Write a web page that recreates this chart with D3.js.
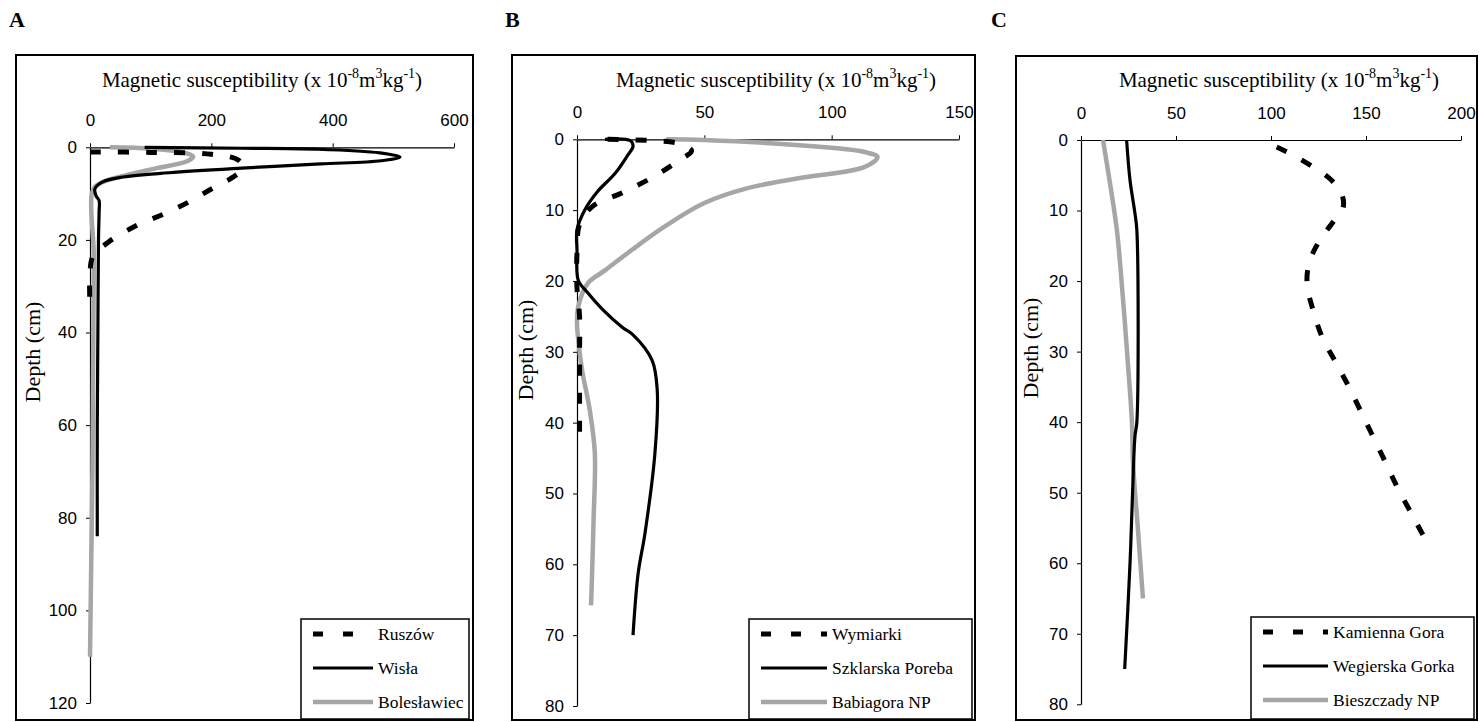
<!DOCTYPE html>
<html>
<head>
<meta charset="utf-8">
<script src="https://cdn.jsdelivr.net/npm/d3@7"></script>
<style>
  body { margin: 0; background: #fff; }
  svg { display: block; }
  .tick text { font-family: "Liberation Sans", Arial, sans-serif; font-size: 17px; fill: #000; }
  .serif { font-family: "Liberation Serif", "Times New Roman", serif; fill: #000; }
</style>
</head>
<body>
<svg width="1479" height="722"></svg>
<script>
// values: [susceptibility, depth]
var ruszow = [[0,1],[100,1.1],[200,1.5],[245,2.8],[252,4.5],[235,6.5],[200,9],[160,12],[120,14.5],[75,17],[30,20.5],[5,23.5],[0,27],[0,35]];
var wisla = [[90,0],[250,0.2],[370,0.4],[478,1.2],[511,2.1],[480,2.9],[380,3.6],[250,4.5],[130,5.5],[50,6.5],[20,7.5],[8,9],[10,10.5],[15,11.5],[15,14],[14,20],[13,40],[12,60],[12,84]];
var boleslawiec = [[33,0],[100,0.3],[150,1],[170,2],[160,3],[110,4.5],[60,6],[25,7.3],[8,8.5],[3,10],[2,13],[4,18],[6,22],[6,30],[5,50],[4,70],[2,90],[0,110]];

var wymiarki = [[12,0],[30,0.2],[40,0.6],[45,1.6],[40,3],[30,5.3],[18,7.5],[6,9.5],[1,12],[0,16],[0,21],[1,25],[1,30],[1,36],[1,42]];
var szklarska = [[11,0],[21,0.2],[22,1],[20,2.2],[15,4.8],[8,7.4],[3,10],[0,12.8],[0,15.6],[0.5,19.9],[4.3,21.7],[10,24],[18,26.6],[22,27.6],[29.5,31.2],[31.5,35.4],[30.6,44.3],[26.7,55.6],[24,61.3],[22,70]];
var babiagora = [[35,0],[50,0.1],[100,1.2],[113,1.8],[118,2.5],[113,3.9],[87,5.5],[67,6.9],[50,9],[34.5,12.3],[21.6,15.6],[11,18.5],[4.3,20.3],[0.5,23.6],[0,26],[0.5,28.3],[2,32.6],[5,38.2],[7,44.3],[6.5,53.8],[5.8,62.7],[5.5,65.8]];

var kamienna = [[103,1],[112,2.2],[122,3.8],[131,5.5],[137,7.5],[138,9.5],[133,11.5],[125,14.5],[120,17.5],[119,20.5],[122,24],[127,28],[133,31],[141,35],[150,40],[159,45],[167,49.5],[175,53.5],[180,56]];
var wegierska = [[24,0],[25.8,5.7],[28.4,10.4],[29.4,12.8],[29.4,40],[28.4,42],[27.4,48],[25.8,60],[23,75]];
var bieszczady = [[11.6,0],[15,5.7],[18.9,12.8],[22,22.2],[24.7,31.7],[26.8,40],[27.4,45.9],[30,55.3],[32.6,65]];

var namesA = ["Ruszów", "Wisła", "Bolesławiec"];
var namesB = ["Wymiarki", "Szklarska Poreba", "Babiagora NP"];
var namesC = ["Kamienna Gora", "Wegierska Gorka", "Bieszczady NP"];

var xTicksA = [0, 200, 400, 600], yTicksA = [0, 20, 40, 60, 80, 100, 120];
var xTicksB = [0, 50, 100, 150], yTicksB = [0, 10, 20, 30, 40, 50, 60, 70, 80];
var xTicksC = [0, 50, 100, 150, 200], yTicksC = [0, 10, 20, 30, 40, 50, 60, 70, 80];

var svg = d3.select("svg");

// dashed black, solid black, grey
var styles = [
  {stroke: "#000", width: 5, dash: "11,17"},
  {stroke: "#000", width: 3.2, dash: null},
  {stroke: "#a6a6a6", width: 4.5, dash: null}
];

var panels = [
  {label: "A", labelX: 9, frame: [16, 55, 473, 720], xr: [90, 454], yr: [147.3, 703],
   xTicks: xTicksA, yTicks: yTicksA, titleX: 262, depthX: 35, depthY: 352,
   legend: [301, 619, 469, 719], legendDx: 77, series: [ruszow, wisla, boleslawiec], names: namesA},
  {label: "B", labelX: 505, frame: [512, 55, 975, 720], xr: [577, 959], yr: [139.3, 706],
   xTicks: xTicksB, yTicks: yTicksB, titleX: 776, depthX: 528, depthY: 350,
   legend: [749, 619, 972, 719], legendDx: 83, series: [wymiarki, szklarska, babiagora], names: namesB},
  {label: "C", labelX: 991, frame: [1016, 56, 1477, 720], xr: [1081, 1461], yr: [140, 704.3],
   xTicks: xTicksC, yTicks: yTicksC, titleX: 1279, depthX: 1033, depthY: 348,
   legend: [1251, 617, 1474, 719], legendDx: 82, series: [kamienna, wegierska, bieszczady], names: namesC}
];

panels.forEach(function(p) {
  var f = p.frame;
  // panel letter
  svg.append("text").attr("class", "serif")
    .attr("x", p.labelX).attr("y", 27)
    .style("font-size", "22px").style("font-weight", "bold")
    .text(p.label);

  // outer frame
  svg.append("rect")
    .attr("x", f[0]).attr("y", f[1])
    .attr("width", f[2] - f[0]).attr("height", f[3] - f[1])
    .attr("fill", "none").attr("stroke", "#000").attr("stroke-width", 2);

  var x = d3.scaleLinear().domain([p.xTicks[0], p.xTicks[p.xTicks.length - 1]]).range(p.xr);
  var y = d3.scaleLinear().domain([p.yTicks[0], p.yTicks[p.yTicks.length - 1]]).range(p.yr);

  svg.append("g")
    .attr("transform", "translate(0," + p.yr[0] + ")")
    .call(d3.axisTop(x).tickValues(p.xTicks).tickSize(4).tickPadding(17).tickSizeOuter(0))
    .call(function(g) { g.select(".domain").attr("stroke-width", 1.2); });

  svg.append("g")
    .attr("transform", "translate(" + p.xr[0] + ",0)")
    .call(d3.axisLeft(y).tickValues(p.yTicks).tickSize(4).tickPadding(9).tickSizeOuter(0))
    .call(function(g) { g.select(".domain").attr("stroke-width", 1.2); });

  // x axis title with superscripts
  var t = svg.append("text").attr("class", "serif")
    .attr("x", p.titleX).attr("y", 87)
    .attr("text-anchor", "middle")
    .style("font-size", "21px");
  t.append("tspan").text("Magnetic susceptibility (x 10");
  t.append("tspan").attr("dy", -9).style("font-size", "14px").text("-8");
  t.append("tspan").attr("dy", 9).text("m");
  t.append("tspan").attr("dy", -9).style("font-size", "14px").text("3");
  t.append("tspan").attr("dy", 9).text("kg");
  t.append("tspan").attr("dy", -9).style("font-size", "14px").text("-1");
  t.append("tspan").attr("dy", 9).text(")");

  // depth title
  svg.append("text").attr("class", "serif")
    .attr("transform", "translate(" + (p.depthX + 5) + "," + p.depthY + ") rotate(-90)")
    .attr("text-anchor", "middle")
    .style("font-size", "22px")
    .text("Depth (cm)");

  var line = d3.line()
    .x(function(d) { return x(d[0]); })
    .y(function(d) { return y(d[1]); })
    .curve(d3.curveCatmullRom.alpha(0.5));

  // draw grey first, then solid, then dashed
  [2, 1, 0].forEach(function(i) {
    var s = styles[i];
    svg.append("path")
      .datum(p.series[i])
      .attr("d", line)
      .attr("fill", "none")
      .attr("stroke", s.stroke)
      .attr("stroke-width", s.width)
      .attr("stroke-dasharray", s.dash)
      .attr("stroke-linejoin", "round");
  });

  // legend
  var L = p.legend;
  svg.append("rect")
    .attr("x", L[0]).attr("y", L[1])
    .attr("width", L[2] - L[0]).attr("height", L[3] - L[1])
    .attr("fill", "#fff").attr("stroke", "#000").attr("stroke-width", 1.5);
  p.names.forEach(function(name, i) {
    var s = styles[i];
    var cy = L[1] + 15 + i * 34;
    svg.append("line")
      .attr("x1", L[0] + 12).attr("x2", L[0] + p.legendDx - 5)
      .attr("y1", cy).attr("y2", cy)
      .attr("stroke", s.stroke).attr("stroke-width", s.width)
      .attr("stroke-dasharray", i === 0 ? "10,20" : s.dash);
    svg.append("text").attr("class", "serif")
      .attr("x", L[0] + p.legendDx).attr("y", cy + 6)
      .style("font-size", "17.5px")
      .text(name);
  });
});
</script>
</body>
</html>
